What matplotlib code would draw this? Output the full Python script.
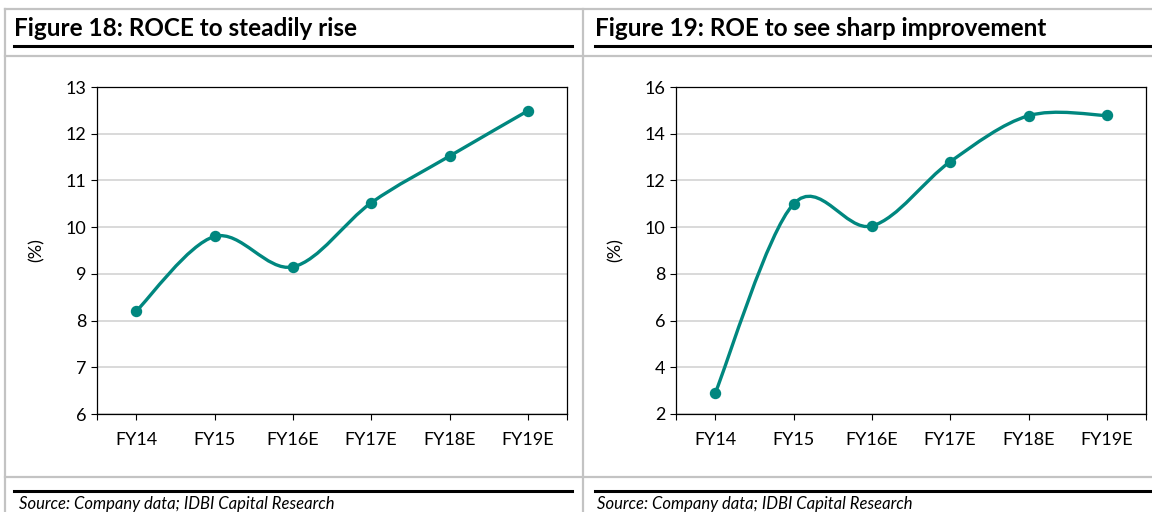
import matplotlib
matplotlib.use("Agg")
import matplotlib.pyplot as plt
import numpy as np
from matplotlib.path import Path
from matplotlib.patches import PathPatch
from matplotlib.lines import Line2D

categories = ["FY14", "FY15", "FY16E", "FY17E", "FY18E", "FY19E"]
roce = [8.2, 9.8, 9.15, 10.52, 11.52, 12.49]
roe = [2.89, 10.99, 10.05, 12.8, 14.77, 14.78]

titles = ["Figure 18: ROCE to steadily rise", "Figure 19: ROE to see sharp improvement"]
source_text = "Source: Company data; IDBI Capital Research"
roce_ticks = [6, 7, 8, 9, 10, 11, 12, 13]
roe_ticks = [2, 4, 6, 8, 10, 12, 14, 16]

TEAL = "#00877F"
FONT = "Lato"
W, H = 1152, 512

fig = plt.figure(figsize=(W / 100, H / 100), dpi=100)


def fx(px):
    return px / W


def fy(py):
    return 1 - py / H


def smooth_path(xs, ys):
    xs = np.asarray(xs, float)
    ys = np.asarray(ys, float)
    n = len(xs)
    verts = [(xs[0], ys[0])]
    codes = [Path.MOVETO]
    for i in range(n - 1):
        i0 = max(i - 1, 0)
        i3 = min(i + 2, n - 1)
        c1 = (xs[i] + (xs[i + 1] - xs[i0]) / 6, ys[i] + (ys[i + 1] - ys[i0]) / 6)
        c2 = (xs[i + 1] - (xs[i3] - xs[i]) / 6, ys[i + 1] - (ys[i3] - ys[i]) / 6)
        verts += [c1, c2, (xs[i + 1], ys[i + 1])]
        codes += [Path.CURVE4] * 3
    return Path(verts, codes)


def panel(x0, values, ticks, title, xtitle, xsource, xright_line):
    ax = fig.add_axes([fx(x0), fy(414), fx(470), (414 - 87) / H])
    x = np.arange(len(categories))
    ax.add_patch(PathPatch(smooth_path(x, values), facecolor="none",
                           edgecolor=TEAL, lw=2.4, zorder=3, capstyle="round"))
    ax.plot(x, values, "o", color=TEAL, ms=7.2, zorder=4)
    ax.set_xlim(-0.5, len(categories) - 0.5)
    ax.set_ylim(ticks[0], ticks[-1])
    ax.set_yticks(ticks)
    ax.set_xticks(x)
    ax.set_xticklabels(categories)
    ax.set_xticks([-0.5, len(categories) - 0.5], minor=True)
    ax.tick_params(axis="x", which="both", direction="out", length=4, width=0.8,
                   pad=9, labelsize=13)
    ax.tick_params(axis="y", direction="out", length=4.5, width=0.8, pad=3,
                   labelsize=13)
    for lab in ax.get_xticklabels() + ax.get_yticklabels():
        lab.set_fontfamily(FONT)
    ax.grid(axis="y", color="#d0d0d0", lw=1.1)
    ax.set_axisbelow(True)
    for s in ax.spines.values():
        s.set_color("black")
        s.set_linewidth(0.9)
    ax.set_ylabel("(%)", fontsize=13, fontfamily=FONT, labelpad=15)

    fig.text(fx(xtitle), fy(28), title, fontsize=17.5, fontweight="bold",
             fontfamily=FONT, va="center", ha="left")
    fig.text(fx(xsource), fy(504), source_text, fontsize=12, style="italic",
             fontfamily=FONT, va="center", ha="left")
    for yy in (46, 491):
        fig.add_artist(Line2D([fx(xtitle), fx(xright_line)], [fy(yy), fy(yy)],
                              color="black", lw=2.2))
    return ax


panel(97, roce, roce_ticks, titles[0], 14, 19, 572)
panel(676, roe, roe_ticks, titles[1], 595, 597, 1150)

grey = "#c3c3c3"
for yy in (9, 56, 477):
    fig.add_artist(Line2D([fx(5), 1], [fy(yy), fy(yy)], color=grey, lw=1.6))
for xx in (5, 583):
    fig.add_artist(Line2D([fx(xx), fx(xx)], [fy(9), 0], color=grey, lw=1.6))

fig.savefig("out.png", dpi=100)
